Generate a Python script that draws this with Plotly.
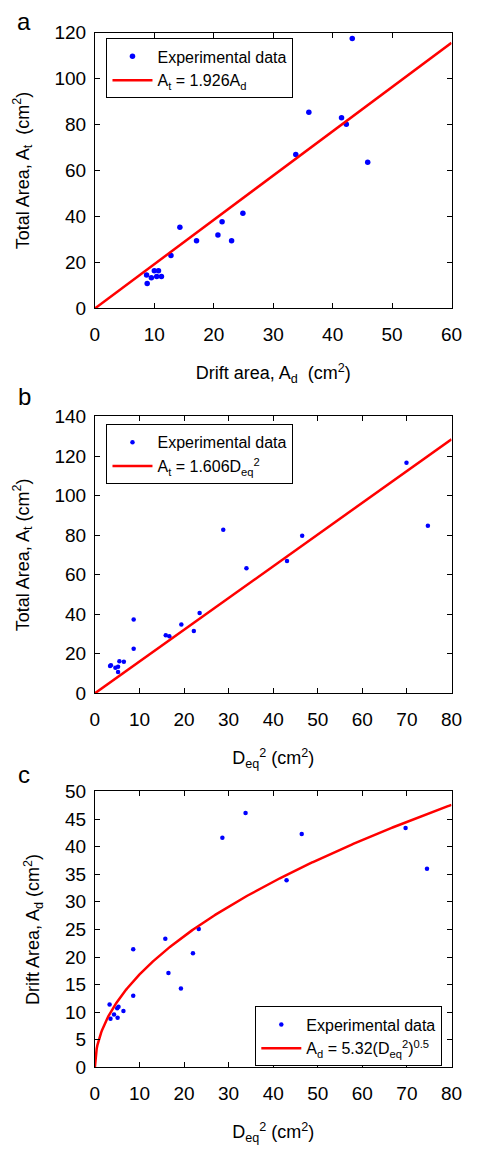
import numpy as np
import plotly.graph_objects as go

# Panel a: drift area vs total area
a_Ad = [43.3, 36.0, 41.5, 42.3, 33.8, 45.9, 24.9, 21.4, 14.3, 20.7, 17.1, 23.0, 12.8, 10.0, 10.7, 8.7, 9.5, 10.4, 11.2, 8.8]
a_At = [117.4, 85.3, 83.0, 80.1, 67.0, 63.6, 41.4, 37.7, 35.3, 32.0, 29.4, 29.4, 23.0, 16.4, 16.4, 14.6, 13.4, 13.9, 13.9, 10.9]
a_coef = 1.926
a_xfit = [0, 60]

# Panel b: D_eq^2 vs total area
b_D2 = [69.9, 74.7, 28.8, 46.5, 43.1, 34.0, 23.5, 8.7, 19.4, 22.2, 15.9, 16.7, 8.7, 5.5, 6.5, 3.4, 3.6, 4.6, 5.2, 5.2]
b_At = [116.6, 84.7, 82.7, 79.7, 66.9, 63.3, 40.6, 37.3, 34.8, 31.5, 29.3, 28.8, 22.5, 16.2, 15.9, 13.8, 14.2, 12.9, 13.4, 10.8]
b_coef = 1.606
b_xfit = [0, 80]

# Panel c: D_eq^2 vs drift area
c_D2 = [33.8, 28.6, 46.4, 69.7, 74.5, 43.0, 23.3, 15.8, 8.6, 22.0, 16.5, 19.3, 8.6, 3.3, 5.3, 5.0, 6.4, 4.3, 3.5, 5.1]
c_Ad = [46.1, 41.6, 42.3, 43.4, 36.0, 33.9, 25.1, 23.3, 21.4, 20.7, 17.1, 14.3, 13.0, 11.4, 11.0, 10.7, 10.2, 9.6, 8.8, 9.0]
c_coef = 5.32
c_exp = 0.5
c_xmax = 80

W, H = 477, 1152
FONT = "Liberation Sans, Arial, Helvetica, sans-serif"
BLUE = "#0000ff"
RED = "#ff0000"

fig = go.Figure()

fig.add_trace(go.Scatter(x=a_Ad, y=a_At, mode="markers", name="Experimental data",
                         marker=dict(color=BLUE, size=5.5), xaxis="x", yaxis="y", legend="legend"))
fig.add_trace(go.Scatter(x=a_xfit, y=[a_coef * v for v in a_xfit], mode="lines",
                         name="A<sub>t</sub> = 1.926A<sub>d</sub>",
                         line=dict(color=RED, width=2.5), xaxis="x", yaxis="y", legend="legend"))

fig.add_trace(go.Scatter(x=b_D2, y=b_At, mode="markers", name="Experimental data",
                         marker=dict(color=BLUE, size=4.5), xaxis="x2", yaxis="y2", legend="legend2"))
fig.add_trace(go.Scatter(x=b_xfit, y=[b_coef * v for v in b_xfit], mode="lines",
                         name="A<sub>t</sub> = 1.606D<sub>eq</sub><sup>2</sup>",
                         line=dict(color=RED, width=2.5), xaxis="x2", yaxis="y2", legend="legend2"))

cx = np.linspace(0, c_xmax, 400)
fig.add_trace(go.Scatter(x=c_D2, y=c_Ad, mode="markers", name="Experimental data",
                         marker=dict(color=BLUE, size=4.5), xaxis="x3", yaxis="y3", legend="legend3"))
fig.add_trace(go.Scatter(x=cx, y=c_coef * cx ** c_exp, mode="lines",
                         name="A<sub>d</sub> = 5.32(D<sub>eq</sub><sup>2</sup>)<sup>0.5</sup>",
                         line=dict(color=RED, width=2.5), xaxis="x3", yaxis="y3", legend="legend3"))

def px2paper_y(py):
    return 1 - py / H

xdom = [93 / W, 462 / W]
panels = [(23, 304), (414, 696), (796, 1077)]
ydoms = [[px2paper_y(b), px2paper_y(t)] for t, b in panels]

axis_common = dict(showline=True, linecolor="black", linewidth=1, mirror="ticks",
                   ticks="inside", ticklen=5, tickcolor="black", showgrid=False, zeroline=False,
                   tickfont=dict(size=19, color="black", family=FONT))
xax = dict(axis_common, ticklabelstandoff=9)
yax = dict(axis_common, ticklabelstandoff=4)

TF = dict(size=18, family=FONT)
XSO = 22
YSO = 20

fig.update_layout(
    width=W, height=H, margin=dict(l=0, r=0, t=0, b=0),
    paper_bgcolor="white", plot_bgcolor="white",
    font=dict(family=FONT, color="black", size=16),
    showlegend=True,
    xaxis=dict(domain=xdom, anchor="y", range=[0, 60], dtick=10,
               title=dict(text="Drift area, A<sub>d</sub>  (cm<sup>2</sup>)", standoff=XSO, font=TF),
               **xax),
    yaxis=dict(domain=ydoms[0], anchor="x", range=[0, 120], dtick=20,
               title=dict(text="Total Area, A<sub>t</sub>  (cm<sup>2</sup>)", standoff=YSO, font=TF),
               **yax),
    xaxis2=dict(domain=xdom, anchor="y2", range=[0, 80], dtick=10,
                title=dict(text="D<sub>eq</sub><sup>2</sup> (cm<sup>2</sup>)", standoff=XSO, font=TF),
                **xax),
    yaxis2=dict(domain=ydoms[1], anchor="x2", range=[0, 140], dtick=20,
                title=dict(text="Total Area, A<sub>t</sub> (cm<sup>2</sup>)", standoff=YSO, font=TF),
                **yax),
    xaxis3=dict(domain=xdom, anchor="y3", range=[0, 80], dtick=10,
                title=dict(text="D<sub>eq</sub><sup>2</sup> (cm<sup>2</sup>)", standoff=XSO, font=TF),
                **xax),
    yaxis3=dict(domain=ydoms[2], anchor="x3", range=[0, 50], dtick=5,
                title=dict(text="Drift Area, A<sub>d</sub> (cm<sup>2</sup>)", standoff=YSO, font=TF),
                **yax),
    legend=dict(x=105 / W, y=px2paper_y(29), xanchor="left", yanchor="top",
                bordercolor="black", borderwidth=1, bgcolor="white",
                font=dict(size=16, family=FONT), tracegroupgap=0, itemwidth=40),
    legend2=dict(x=105 / W, y=px2paper_y(422), xanchor="left", yanchor="top",
                 bordercolor="black", borderwidth=1, bgcolor="white",
                 font=dict(size=16, family=FONT), tracegroupgap=0, itemwidth=40),
    legend3=dict(x=259 / W, y=px2paper_y(1015), xanchor="left", yanchor="top",
                 bordercolor="black", borderwidth=1, bgcolor="white",
                 font=dict(size=16, family=FONT), tracegroupgap=0, itemwidth=40),
    annotations=[
        dict(text="a", x=20 / W, y=px2paper_y(12), xref="paper", yref="paper", showarrow=False,
             xanchor="center", yanchor="middle", font=dict(size=24, family=FONT)),
        dict(text="b", x=20 / W, y=px2paper_y(394), xref="paper", yref="paper", showarrow=False,
             xanchor="center", yanchor="middle", font=dict(size=24, family=FONT)),
        dict(text="c", x=20 / W, y=px2paper_y(779), xref="paper", yref="paper", showarrow=False,
             xanchor="center", yanchor="middle", font=dict(size=24, family=FONT)),
    ],
)

fig.write_html("out.html")
